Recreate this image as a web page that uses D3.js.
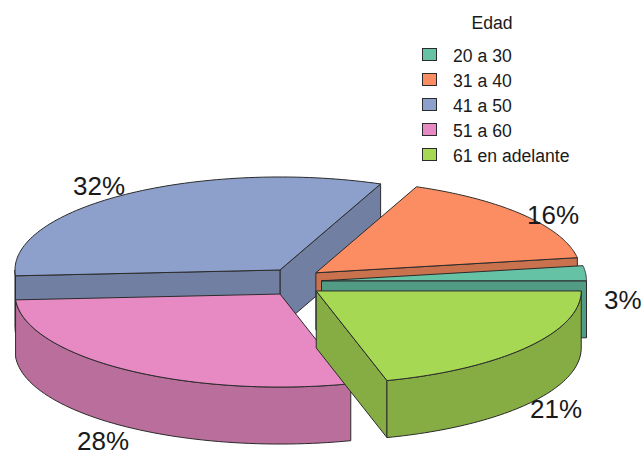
<!DOCTYPE html>
<html>
<head>
<meta charset="utf-8">
<script src="https://cdn.jsdelivr.net/npm/d3@7"></script>
<style>
  html, body { margin: 0; background: #fff; }
  svg { display: block; }
  text { font-family: "Liberation Sans", Arial, sans-serif; fill: #1a1a1a; }
</style>
</head>
<body>
<div id="chart"></div>
<script>
// values, the printed labels are rounded
const categories = ["20 a 30", "31 a 40", "41 a 50", "51 a 60", "61 en adelante"];
const shares = [2.6, 16.2, 32.2, 28.3, 20.7];
const pctLabels = ["3%", "16%", "32%", "28%", "21%"];
const colors = ["#66C2A5", "#FC8D62", "#8DA0CB", "#E78AC3", "#A6D854"];
const legendTitle = "Edad";

// back to front
const drawOrder = [2, 1, 0, 3, 4];

const width = 644;
const height = 457;

const center = { x: 295.3, y: 282 };
const rx = 265;
const ry = 93;
const depth = 57;
const explodeX = 0.0992;
const explodeY = 0.159;
const shade = 0.8;

// label anchors, same order as pctLabels
const labelPos = [[604, 309], [527, 224], [73, 195], [77, 450], [530, 418]];

const x = d3.scaleLinear().domain([-1, 1]).range([center.x - rx, center.x + rx]);
const y = d3.scaleLinear().domain([-1, 1]).range([center.y + ry, center.y - ry]);

const svg = d3.select("#chart")
  .append("svg")
  .attr("width", width)
  .attr("height", height);

const arcs = d3.pie().sort(null).startAngle(0).endAngle(2 * Math.PI)(shares);

const line = d3.line();

function sideColor(c) {
  const r = d3.rgb(c);
  return d3.rgb(r.r * shade, r.g * shade, r.b * shade).formatHex();
}

function drawPoly(pts, fill) {
  svg.append("path")
    .attr("d", line(pts) + "Z")
    .attr("fill", fill)
    .attr("stroke", "#2b2b2b")
    .attr("stroke-width", 1)
    .attr("stroke-linejoin", "round");
}

function drawSlice(i) {
  const a = arcs[i];
  const mid = (a.startAngle + a.endAngle) / 2;
  const ox = explodeX * Math.cos(mid);
  const oy = explodeY * Math.sin(mid);
  const pt = (ang, dz = 0) => [x(ox + Math.cos(ang)), y(oy + Math.sin(ang)) + dz];
  const apex = (dz = 0) => [x(ox), y(oy) + dz];
  const side = sideColor(colors[i]);

  // cut faces, only the ones turned toward the viewer
  if (Math.cos(a.startAngle) > 0) {
    drawPoly([apex(), pt(a.startAngle), pt(a.startAngle, depth), apex(depth)], side);
  }
  if (Math.cos(a.endAngle) < 0) {
    drawPoly([apex(), pt(a.endAngle), pt(a.endAngle, depth), apex(depth)], side);
  }

  // outer wall, front half of the rim only
  const from = Math.max(a.startAngle, Math.PI);
  const to = a.endAngle;
  if (to > from) {
    const steps = d3.range(0, 61).map(k => from + (to - from) * k / 60);
    drawPoly(
      steps.map(t => pt(t)).concat(steps.slice().reverse().map(t => pt(t, depth))),
      side
    );
  }

  // top
  const steps = d3.range(0, 81).map(k => a.startAngle + (a.endAngle - a.startAngle) * k / 80);
  drawPoly([apex()].concat(steps.map(t => pt(t))), colors[i]);
}

drawOrder.forEach(drawSlice);

svg.append("g")
  .selectAll("text")
  .data(pctLabels)
  .enter()
  .append("text")
  .attr("x", (d, i) => labelPos[i][0])
  .attr("y", (d, i) => labelPos[i][1])
  .attr("font-size", 26)
  .text(d => d);

// legend
svg.append("text")
  .attr("x", 492)
  .attr("y", 29)
  .attr("text-anchor", "middle")
  .attr("font-size", 17.6)
  .text(legendTitle);

const legend = svg.append("g")
  .selectAll("g")
  .data(categories)
  .enter()
  .append("g")
  .attr("transform", (d, i) => `translate(0,${i * 25})`);

legend.append("rect")
  .attr("x", 422.5)
  .attr("y", 48.5)
  .attr("width", 14)
  .attr("height", 12)
  .attr("fill", (d, i) => colors[i])
  .attr("stroke", "#2b2b2b")
  .attr("stroke-width", 1);

legend.append("text")
  .attr("x", 453)
  .attr("y", 62)
  .attr("font-size", 17.6)
  .text(d => d);
</script>
</body>
</html>
